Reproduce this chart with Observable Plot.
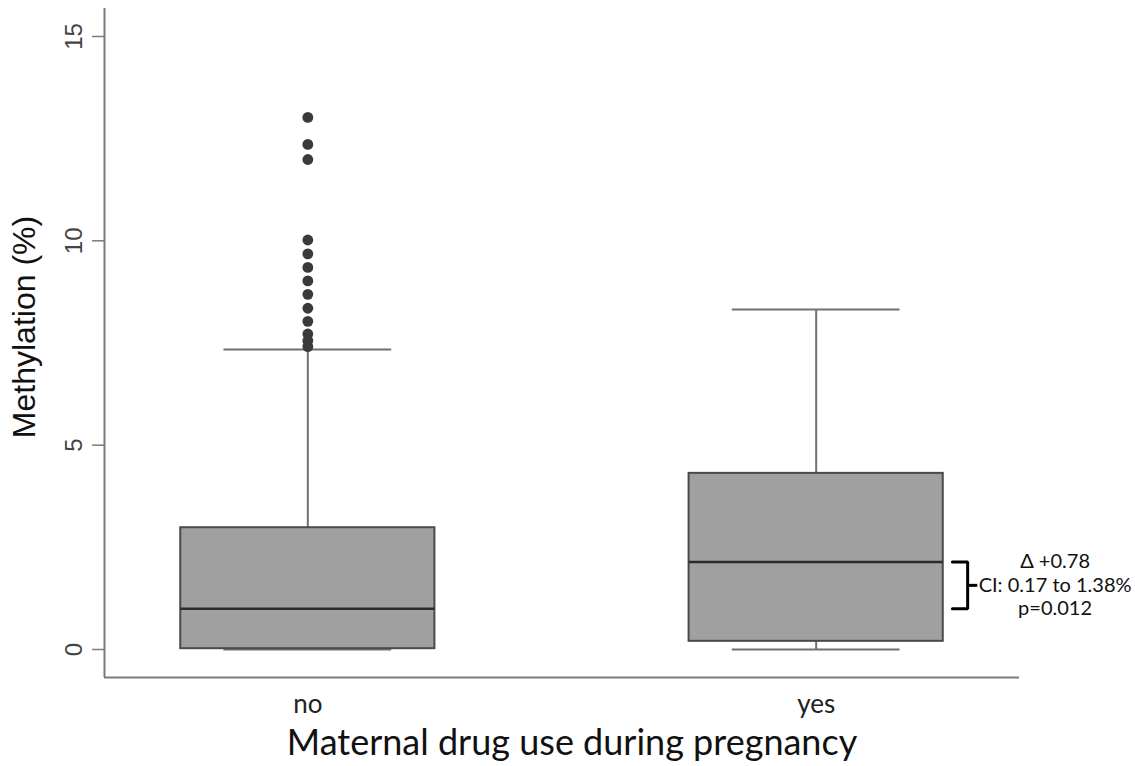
<!DOCTYPE html>
<html>
<head>
<meta charset="utf-8">
<script src="https://cdn.jsdelivr.net/npm/d3@7"></script>
<script src="https://cdn.jsdelivr.net/npm/@observablehq/plot@0.6"></script>
<style>
  html, body { margin: 0; padding: 0; background: #fff; }
  #chart svg { display: block; }
</style>
</head>
<body>
<div id="chart"></div>
<script>
// ---- data ----
const groups = ["no", "yes"];
const q1 = [0.02, 0.20];
const median = [1.00, 2.14];
const q3 = [2.98, 4.31];
const whiskerLow = [0.00, 0.00];
const whiskerHigh = [7.34, 8.32];
const outliersNo = [13.02, 12.36, 11.99, 10.02, 9.68, 9.35, 9.02, 8.69, 8.35, 8.03, 7.72, 7.56, 7.41];
const yTicks = [0, 5, 10, 15];
const annotationLines = ["Δ +0.78", "CI: 0.17 to 1.38%", "p=0.012"];
const yLabel = "Methylation (%)";
const xLabel = "Maternal drug use during pregnancy";

// ---- derived tables ----
const boxes = groups.map((g, i) => ({
  group: g, i, q1: q1[i], median: median[i], q3: q3[i],
  lo: whiskerLow[i], hi: whiskerHigh[i]
}));
const outliers = outliersNo.map(v => ({ i: groups.indexOf("no"), v }));

const xDomain = [-0.4, 1.4];
const yDomain = [-0.685, 15.685];
const half = 0.25;      // box half width (x units)
const cap = 0.165;      // whisker cap half width
const iYes = groups.indexOf("yes"), iNo = groups.indexOf("no");
const bracket = [
  { x: 1.268, y: median[iYes] },
  { x: 1.298, y: median[iYes] },
  { x: 1.298, y: median[iNo] },
  { x: 1.268, y: median[iNo] }
];
const midY = (median[iYes] + median[iNo]) / 2;
const annY = [median[iYes], midY, median[iNo]];

const calibri = "Lato, Carlito, Calibri, sans-serif";
const arial = "'Liberation Sans', Arial, sans-serif";

const chart = Plot.plot({
  width: 1135,
  height: 766,
  marginTop: 8,
  marginRight: 116,
  marginBottom: 89,
  marginLeft: 104,
  style: { background: "#fff", overflow: "visible" },
  x: { domain: xDomain, axis: null },
  y: { domain: yDomain, axis: null },
  marks: [
    // axis lines
    Plot.ruleX([xDomain[0]], { stroke: "#7a7a7a", strokeWidth: 2 }),
    Plot.ruleY([yDomain[0]], { stroke: "#7a7a7a", strokeWidth: 2 }),
    // y tick marks
    Plot.axisY({ ticks: yTicks, tickSize: 12, tickFormat: () => "", stroke: "#7a7a7a", strokeWidth: 1.5 }),
    // y tick labels
    Plot.text(yTicks, {
      x: () => xDomain[0], y: d => d, text: d => String(d),
      rotate: -90, dx: -30, textAnchor: "middle", lineAnchor: "middle",
      fontSize: 24, fontFamily: arial, fill: "#444"
    }),
    // whiskers
    Plot.ruleX(boxes, { x: "i", y1: "q3", y2: "hi", stroke: "#707070", strokeWidth: 2 }),
    Plot.ruleX(boxes, { x: "i", y1: "lo", y2: "q1", stroke: "#707070", strokeWidth: 2 }),
    Plot.ruleY(boxes, { y: "hi", x1: d => d.i - cap, x2: d => d.i + cap, stroke: "#707070", strokeWidth: 2 }),
    Plot.ruleY(boxes, { y: "lo", x1: d => d.i - cap, x2: d => d.i + cap, stroke: "#707070", strokeWidth: 2 }),
    // boxes
    Plot.rect(boxes, {
      x1: d => d.i - half, x2: d => d.i + half, y1: "q1", y2: "q3",
      fill: "#a0a0a0", stroke: "#4a4a4a", strokeWidth: 2
    }),
    // medians
    Plot.ruleY(boxes, { y: "median", x1: d => d.i - half, x2: d => d.i + half, stroke: "#2b2b2b", strokeWidth: 2.5 }),
    // outliers
    Plot.dot(outliers, { x: "i", y: "v", r: 5.4, fill: "#3a3a3a", stroke: "none" }),
    // x tick labels
    Plot.text(boxes, {
      x: "i", frameAnchor: "bottom", text: "group", dy: 27, lineAnchor: "middle",
      fontSize: 26, fontFamily: calibri, fill: "#222"
    }),
    // axis titles
    Plot.text([xLabel], {
      frameAnchor: "bottom", dx: 10, dy: 66, lineAnchor: "middle",
      fontSize: 36, fontFamily: calibri, fill: "#111"
    }),
    Plot.text([yLabel], {
      frameAnchor: "left", rotate: -90, dx: -80, dy: -16,
      textAnchor: "middle", lineAnchor: "middle",
      fontSize: 32, fontFamily: arial, fill: "#111"
    }),
    // annotation bracket
    Plot.line(bracket, { x: "x", y: "y", stroke: "#000", strokeWidth: 3, strokeLinejoin: "miter" }),
    Plot.ruleY([midY], { x1: 1.298, x2: 1.318, stroke: "#000", strokeWidth: 3 }),
    Plot.text(annotationLines, {
      x: () => 1.47, y: (d, i) => annY[i], text: d => d, lineAnchor: "middle",
      fontSize: 20, fontFamily: calibri, fill: "#111"
    })
  ]
});

document.getElementById("chart").appendChild(chart);
</script>
</body>
</html>
